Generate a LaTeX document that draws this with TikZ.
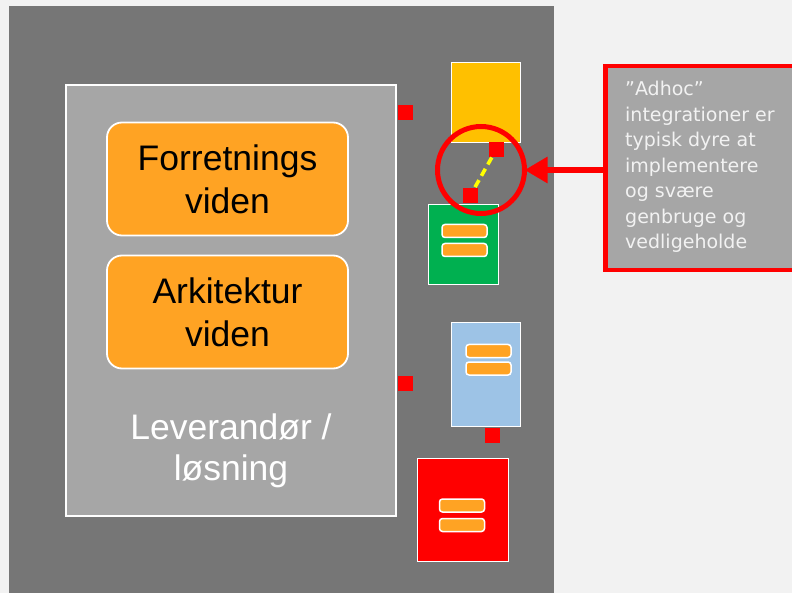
\documentclass[tikz,border=0pt]{standalone}
\usepackage{fontspec}
\setmainfont{Liberation Sans}
\newfontfamily\callfont{DejaVu Sans}
\usetikzlibrary{arrows.meta}
\definecolor{bgc}{HTML}{F2F2F2}
\definecolor{panelc}{HTML}{767676}
\definecolor{grayc}{HTML}{A6A6A6}
\definecolor{orangec}{HTML}{FFA323}
\definecolor{yellowc}{HTML}{FFC000}
\definecolor{greenc}{HTML}{00B050}
\definecolor{bluec}{HTML}{9DC3E6}
\definecolor{redc}{HTML}{FF0000}
\definecolor{dashc}{HTML}{FFFF00}
\definecolor{calltext}{HTML}{F2F2F2}
\tikzset{
  box/.style={draw=white, line width=1.8pt, inner sep=0pt, outer sep=0pt},
  knowbox/.style={box, fill=orangec, rounded corners=15pt, minimum width=241pt, minimum height=113pt,
    font=\fontsize{35.5}{43}\selectfont, align=center, text=black},
  bar/.style={draw=white, line width=1.5pt, fill=orangec, rounded corners=3pt, minimum width=45pt, minimum height=13pt, inner sep=0pt},
  port/.style={fill=redc, minimum width=15pt, minimum height=15pt, inner sep=0pt, outer sep=0pt},
}
\begin{document}
\begin{tikzpicture}[x=1pt,y=-1pt]
\fill[bgc] (0,0) rectangle (792,593);
\useasboundingbox (0,0) rectangle (792,593);
\clip (0,0) rectangle (792,593);
\fill[panelc] (9,6) rectangle (554,600);

% supplier box
\node[box, fill=grayc, minimum width=330pt, minimum height=431pt] (lev) at (231,300.5) {};
\node[font=\fontsize{35.5}{41}\selectfont, text=white, align=center] (levtxt) at (231,451) {Leverand\o r /\\l\o sning};
\node[knowbox] (fv) at (227.5,179) {Forretnings\\viden};
\node[knowbox] (av) at (227.5,312) {Arkitektur\\viden};

% ports on supplier
\node[port] (p1) at (405,113) {};
\node[port] (p2) at (405,383) {};

% systems
\node[box, fill=yellowc, minimum width=69pt, minimum height=80pt] (ysys) at (486,102.5) {};
\node[box, fill=greenc, minimum width=70pt, minimum height=80pt] (gsys) at (463.5,244.5) {};
\node[box, fill=bluec, minimum width=69pt, minimum height=104pt] (bsys) at (486,374.5) {};
\node[box, fill=redc, minimum width=91pt, minimum height=103pt] (rsys) at (463,510) {};

\node[bar] (g1) at (464.5,231) {};
\node[bar] (g2) at (464.5,250) {};
\node[bar] (b1) at (488.5,351) {};
\node[bar] (b2) at (488.5,368.5) {};
\node[bar] (r1) at (462,505.5) {};
\node[bar] (r2) at (462,525) {};

\node[port] (p3) at (496,150) {};
\node[port] (p4) at (470,196) {};
\node[port] (p5) at (492,435) {};

\draw[dashc, line width=3.6pt, dash pattern=on 8pt off 5pt] (p3) -- (p4);

% highlight circle
\node[draw=redc, line width=5pt, circle, minimum size=87pt, inner sep=0pt, outer sep=0pt] (circ) at (481,170) {};

% callout
\node[draw=redc, fill=grayc, line width=4.5pt, minimum width=200pt, minimum height=204pt, inner sep=0pt, outer sep=0pt] (call) at (705.5,168) {};
\node[anchor=north west, inner sep=0pt, text=calltext, align=left,
  font=\callfont\fontsize{19}{25.5}\selectfont] (calltxt) at (625,81) {”Adhoc”\\integrationer er\\typisk dyre at\\implementere\\og sv\ae re\\genbruge og\\vedligeholde};

\draw[redc, line width=6.5pt, -{Triangle[length=23pt,width=25pt]}] (call.west |- circ.east) -- (circ.east);
\end{tikzpicture}
\end{document}
